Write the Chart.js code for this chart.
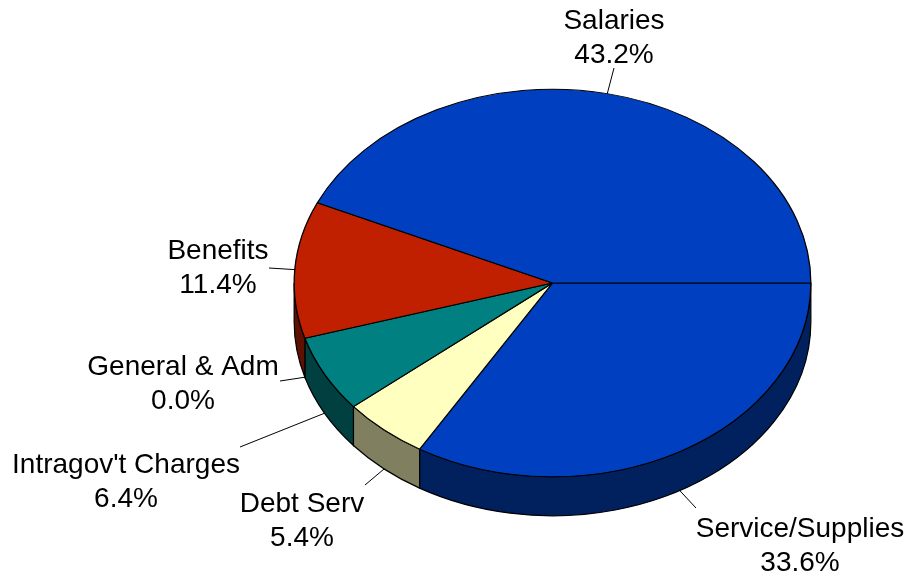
<!DOCTYPE html>
<html>
<head>
<meta charset="utf-8">
<script src="https://cdn.jsdelivr.net/npm/chart.js@4.4.0/dist/chart.umd.min.js"></script>
<style>
  html, body { margin: 0; padding: 0; background: #fff; }
  #wrap { width: 910px; height: 577px; }
</style>
</head>
<body>
<div id="wrap"><canvas id="pie"></canvas></div>
<script>
// --- Data (clockwise from 3 o'clock) ---
const categories = ['Service/Supplies', 'Debt Serv', "Intragov't Charges", 'General & Adm', 'Benefits', 'Salaries'];
const shares = [33.6, 5.4, 6.4, 0.0, 11.4, 43.2];

// --- Styles ---
const topColors = ['#0040C0', '#FFFFC0', '#008080', '#800080', '#C02000', '#0040C0'];
const sideColors = ['#00205E', '#808060', '#004040', '#400040', '#601000', '#00205E'];
const tilt = 0.75;   // vertical squash of the pie
const depth = 39;    // thickness of the side wall

// label layout: text centre x, first baseline, leader end point
const labelLayout = [
    { x: 800, y: 537, lx: 696, ly: 508 },
    { x: 302, y: 512, lx: 365, ly: 485 },
    { x: 126, y: 473, lx: 240, ly: 447 },
    { x: 183, y: 375, lx: 280, ly: 381 },
    { x: 218, y: 259, lx: 269, ly: 268 },
    { x: 614, y: 29,  lx: 614, ly: 68 }
];
const lineGap = 33.5;

// draws the visible front wall of each slice, then squashes the top faces
const pie3d = {
    id: 'pie3d',
    beforeDatasetsDraw(chart) {
        const ctx = chart.ctx;
        const arcs = chart.getDatasetMeta(0).data;
        arcs.forEach((arc, i) => {
            const { x, y, startAngle, endAngle, outerRadius } = arc.getProps(['x', 'y', 'startAngle', 'endAngle', 'outerRadius'], true);
            const a = Math.max(startAngle, 0);
            const b = Math.min(endAngle, Math.PI);
            if (b <= a) return;
            const rx = outerRadius, ry = outerRadius * tilt;
            ctx.save();
            ctx.beginPath();
            ctx.ellipse(x, y, rx, ry, 0, a, b);
            ctx.ellipse(x, y + depth, rx, ry, 0, b, a, true);
            ctx.closePath();
            ctx.fillStyle = sideColors[i];
            ctx.fill();
            ctx.lineWidth = 1.2;
            ctx.strokeStyle = '#000';
            ctx.stroke();
            ctx.restore();
        });
        const first = arcs[0];
        ctx.save();
        ctx.translate(first.x, first.y);
        ctx.scale(1, tilt);
        ctx.translate(-first.x, -first.y);
    },
    afterDatasetsDraw(chart) {
        chart.ctx.restore();
    },
    afterDraw(chart) {
        const ctx = chart.ctx;
        const arcs = chart.getDatasetMeta(0).data;
        ctx.save();
        ctx.font = '28px "Liberation Sans", Arial, sans-serif';
        ctx.fillStyle = '#000';
        ctx.textAlign = 'center';
        ctx.textBaseline = 'alphabetic';
        arcs.forEach((arc, i) => {
            const lay = labelLayout[i];
            const mid = (arc.startAngle + arc.endAngle) / 2;
            const s = Math.sin(mid);
            const ex = arc.x + arc.outerRadius * Math.cos(mid);
            const ey = arc.y + arc.outerRadius * tilt * s + (s > 0 ? depth : 0);
            ctx.beginPath();
            ctx.moveTo(ex, ey);
            ctx.lineTo(lay.lx, lay.ly);
            ctx.lineWidth = 1;
            ctx.strokeStyle = '#000';
            ctx.stroke();
            ctx.fillText(categories[i], lay.x, lay.y);
            ctx.fillText(shares[i].toFixed(1) + '%', lay.x, lay.y + lineGap);
        });
        ctx.restore();
    }
};

new Chart(document.getElementById('pie'), {
    type: 'pie',
    data: {
        labels: categories,
        datasets: [{
            data: shares,
            backgroundColor: topColors,
            borderColor: '#000',
            borderWidth: 1.3
        }]
    },
    options: {
        responsive: true,
        maintainAspectRatio: false,
        animation: false,
        events: [],
        rotation: 90,
        layout: { padding: { left: 293.5, right: 98.5, top: 19.5, bottom: 30.5 } },
        plugins: {
            legend: { display: false },
            tooltip: { enabled: false }
        }
    },
    plugins: [pie3d]
});
</script>
</body>
</html>
